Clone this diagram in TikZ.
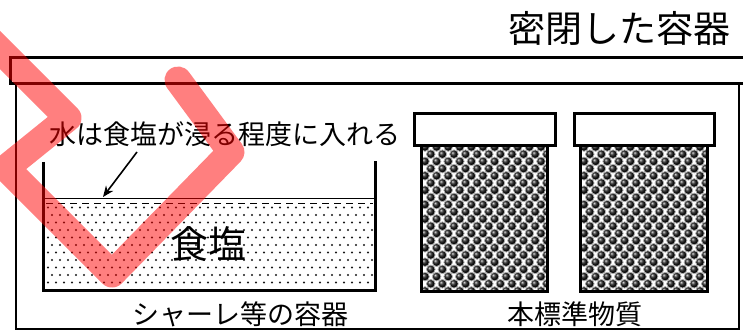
\documentclass[tikz,border=0pt]{standalone}
\usepackage{fontspec}
\newfontfamily\jp{Noto Sans CJK JP}
\usetikzlibrary{arrows.meta}
\begin{document}
\begin{tikzpicture}[x=1pt,y=-1pt,
  txt/.style={font=\jp\fontsize{27}{30}\selectfont, inner sep=0pt, anchor=center},
  bigtxt/.style={font=\jp\fontsize{37}{40}\selectfont, inner sep=0pt, anchor=center},
  wall/.style={line width=3pt, line join=miter},
  boxline/.style={line width=2.5pt},
  capbox/.style={draw, line width=3pt, fill=white},
  bodybox/.style={draw, line width=3pt},
  bead/.style={shading=ball, ball color=black!92, draw=gray!65, line width=0.8pt},
  pointer/.style={line width=1.6pt, -{Stealth[length=11pt,width=9pt]}},
  redstroke/.style={draw=red, draw opacity=0.5, line width=27pt, line join=round, line cap=round}]
\useasboundingbox (0,0) rectangle (743,331);
\fill[white] (0,0) rectangle (743,331);

% sealed outer container and its lid
\draw[wall] (746,58) -- (10,58) -- (10,84) -- (746,84);
\draw[boxline] (16,84) -- (16,329) -- (739,329) -- (739,84);
\node[bigtxt] (title) at (619,28) {密閉した容器};

% dish with salt
\begin{scope}
  \clip (44,205) rectangle (374,289);
  \foreach \r in {0,...,12} {
    \pgfmathsetmacro\yy{207.5+\r*7.5}
    \pgfmathsetmacro\off{mod(\r,2)*4}
    \foreach \c in {0,...,42} {
      \fill[black!90] ({48+\off+\c*8},\yy) circle (1.15);
    }
  }
\end{scope}
\draw[line width=0.8pt] (43,198) -- (375,198);
\draw[line width=0.9pt, dash pattern=on 7pt off 5pt] (46,203.5) -- (373,203.5);
\draw[wall] (43,162) -- (43,290) -- (375,290) -- (375,161);
\node[font=\jp\fontsize{38}{40}\selectfont, inner sep=0pt] (salt) at (208,244) {食塩};
\node[txt] (dishlbl) at (240,314) {シャーレ等の容器};

% water level note
\node[txt] (note) at (225,134) {水は食塩が浸る程度に入れる};
\coordinate (tail) at (137,152);
\coordinate (level) at (103,197);
\draw[pointer] (tail) -- (level);

% two bottles of reference material
\foreach \xl/\xr/\cl/\cr/\nm in {421/547/413/554/a, 580/707/573/713/b} {
  \begin{scope}
    \clip (\xl,144) rectangle (\xr,291);
    \fill[white] (\xl,144) rectangle (\xr,291);
    \foreach \r in {0,...,20} {
      \pgfmathsetmacro\yy{147+\r*7.2}
      \pgfmathsetmacro\off{mod(\r,2)*5.8}
      \foreach \c in {0,...,11} {
        \path[bead] ({\xl+4+\off+\c*11.6},\yy) circle (4.3);
      }
    }
  \end{scope}
  \draw[bodybox] (\xl,144) rectangle (\xr,291);
  \node[capbox, minimum width={\cr-\cl}, minimum height=32pt, inner sep=0pt, anchor=north west] (cap\nm) at (\cl,112) {};
}
\node[txt] (stdlbl) at (575,314) {本標準物質};

% red check mark stroke
\draw[redstroke] (-14,36) -- (68,118) -- (6,168) -- (112,274) -- (231,152) -- (178,80);
\end{tikzpicture}
\end{document}
